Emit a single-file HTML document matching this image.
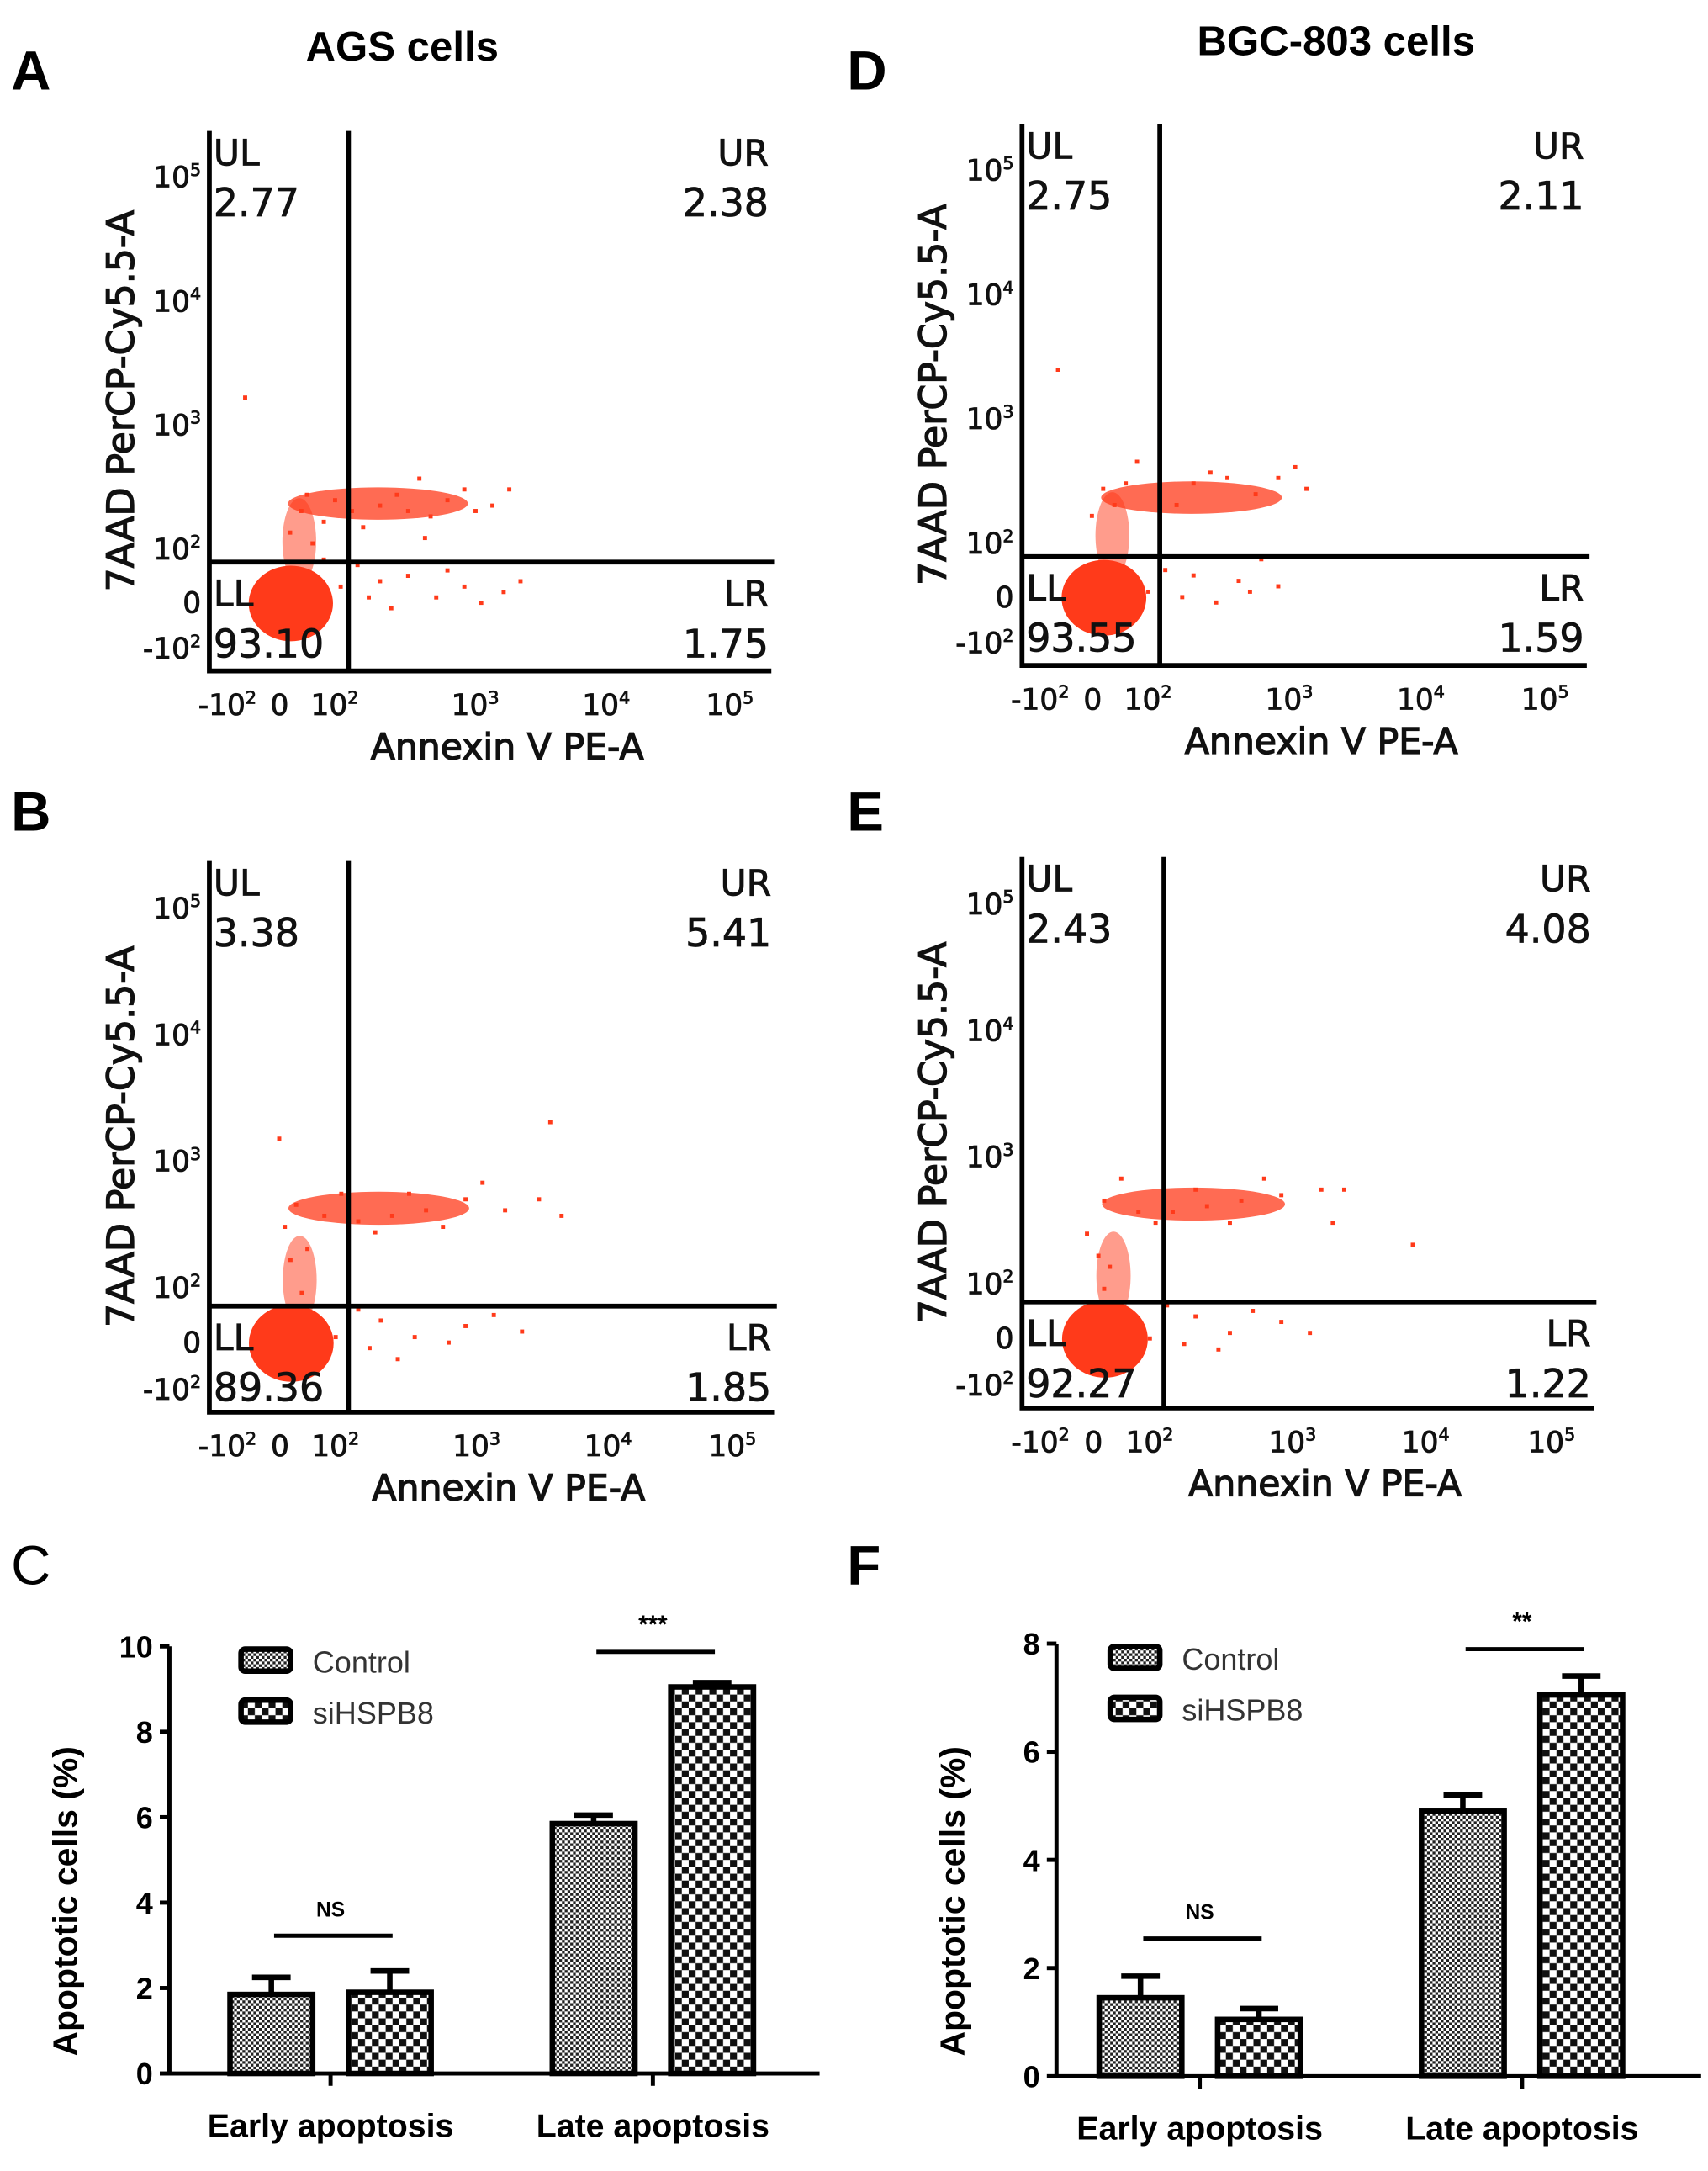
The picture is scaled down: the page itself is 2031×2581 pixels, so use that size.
<!DOCTYPE html>
<html><head><meta charset="utf-8"><style>
html,body{margin:0;padding:0;background:#fff}
svg{display:block}
.flow{font-family:"DejaVu Sans",Verdana,sans-serif}
.bar{font-family:"Liberation Sans",Arial,sans-serif;font-weight:bold}
</style></head><body>
<svg id="fig" width="2031" height="2581" viewBox="0 0 1240 1575.8" preserveAspectRatio="none" xmlns="http://www.w3.org/2000/svg">
<defs>
<pattern id="fine" width="4" height="4" patternUnits="userSpaceOnUse"><rect width="4" height="4" fill="#fff"/><rect width="2" height="2" fill="#222"/><rect x="2" y="2" width="2" height="2" fill="#222"/></pattern>
<pattern id="coarse" width="10" height="10" patternUnits="userSpaceOnUse"><rect width="10" height="10" fill="#fff"/><rect width="5" height="5" fill="#111"/><rect x="5" y="5" width="5" height="5" fill="#111"/></pattern>
</defs>
<g class="bar" font-size="40" fill="#000">
<text x="8" y="65">A</text>
<text x="8" y="603">B</text>
<text x="8" y="1150" font-weight="normal">C</text>
<text x="615" y="65">D</text>
<text x="615" y="603">E</text>
<text x="615" y="1150">F</text>
<text x="292" y="44" font-size="30" text-anchor="middle">AGS cells</text>
<text x="970" y="40" font-size="30" text-anchor="middle">BGC-803 cells</text>
</g>
<g id="flows"></g>
<g id="bars"></g>
</svg>
<script>
const NS='http://www.w3.org/2000/svg';
function mk(p,tag,attrs,txt){const e=document.createElementNS(NS,tag);for(const k in attrs)e.setAttribute(k,attrs[k]);if(txt!==undefined)e.textContent=txt;p.appendChild(e);return e;}

// ---- flow cytometry panel data ----
const flowPanels=['A','D','B','E'];
const flowUL=['2.77','2.75','3.38','2.43'];
const flowUR=['2.38','2.11','5.41','4.08'];
const flowLL=['93.10','93.55','89.36','92.27'];
const flowLR=['1.75','1.59','1.85','1.22'];
const yTickLabels=['10|5','10|4','10|3','10|2','0','-10|2'];
const xTickLabels=['-10|2','0','10|2','10|3','10|4','10|5'];
// scatter points [x fraction, y fraction]
const dotsA=[[0.16,0.70],[0.2,0.72],[0.25,0.7],[0.3,0.69],[0.35,0.7],[0.42,0.68],[0.45,0.66],[0.5,0.69],[0.18,0.76],[0.3,0.83],[0.35,0.82],[0.45,0.84],[0.52,0.85],[0.28,0.86],[0.06,0.49],[0.38,0.75],[0.4,0.86],[0.55,0.83],[0.22,0.68],[0.27,0.73],[0.33,0.67],[0.39,0.71],[0.47,0.7],[0.14,0.74],[0.17,0.67],[0.26,0.8],[0.32,0.88],[0.42,0.81],[0.48,0.87],[0.23,0.84],[0.2,0.79],[0.37,0.64],[0.53,0.66]];
const dotsD=[[0.14,0.67],[0.18,0.66],[0.24,0.67],[0.3,0.66],[0.36,0.65],[0.45,0.65],[0.5,0.67],[0.12,0.72],[0.3,0.83],[0.38,0.84],[0.45,0.85],[0.28,0.87],[0.06,0.45],[0.24,0.58],[0.4,0.86],[0.2,0.62],[0.27,0.7],[0.33,0.64],[0.41,0.68],[0.16,0.7],[0.25,0.82],[0.34,0.88],[0.42,0.8],[0.22,0.86],[0.48,0.63]];
const dotsB=[[0.15,0.62],[0.2,0.64],[0.26,0.65],[0.32,0.64],[0.38,0.63],[0.45,0.61],[0.52,0.63],[0.58,0.61],[0.14,0.72],[0.16,0.78],[0.3,0.83],[0.36,0.86],[0.45,0.84],[0.55,0.85],[0.28,0.88],[0.12,0.5],[0.6,0.47],[0.23,0.6],[0.29,0.67],[0.35,0.6],[0.41,0.66],[0.48,0.58],[0.13,0.66],[0.17,0.7],[0.26,0.81],[0.33,0.9],[0.42,0.87],[0.5,0.82],[0.22,0.86],[0.62,0.64]];
const dotsE=[[0.14,0.62],[0.2,0.64],[0.26,0.64],[0.32,0.63],[0.38,0.62],[0.45,0.61],[0.52,0.6],[0.56,0.6],[0.13,0.72],[0.14,0.78],[0.3,0.83],[0.36,0.86],[0.45,0.84],[0.5,0.86],[0.28,0.88],[0.68,0.7],[0.17,0.58],[0.23,0.66],[0.3,0.6],[0.36,0.66],[0.42,0.58],[0.11,0.68],[0.15,0.74],[0.25,0.81],[0.34,0.89],[0.4,0.82],[0.22,0.87],[0.54,0.66]];
const flowDots=[dotsA,dotsD,dotsB,dotsE];
// layout (not data)
const frames=[[152,95,560,487,253,408],[742,90,1152,483,842,404],[152,625,562,1025,253,948],[742,622,1157,1022,845,945]];
const yTickFr=[0.084,0.314,0.543,0.773,0.872,0.957];
const xTickFr=[0.032,0.125,0.223,0.473,0.706,0.926];

function expText(g,x,y,lab,anchor,size){
  const t=mk(g,'text',{x:x,y:y,'text-anchor':anchor,'font-size':size});
  const parts=lab.split('|');
  mk(t,'tspan',{},parts[0]);
  if(parts[1]) mk(t,'tspan',{dy:-size*0.4,'font-size':size*0.6},parts[1]);
  return t;
}
const fg=document.getElementById('flows');
flowPanels.forEach((p,i)=>{
  const [L,T,R,B,vx,hy]=frames[i];
  const g=mk(fg,'g',{class:'flow',fill:'#111',stroke:'#111','stroke-width':0.5});
  
  
  const W=R-L,H=B-T;
  const dg=mk(g,'g',{fill:'#ff3a1a',stroke:'none'});
  const band=mk(dg,'ellipse',{cx:L+W*0.3,cy:T+H*(i<2?0.69:0.63),rx:W*0.16,ry:H*0.03,opacity:0.75});
  
  const stem=mk(dg,'ellipse',{cx:L+W*0.16,cy:T+H*0.76,rx:W*0.03,ry:H*0.08,opacity:0.5});
  
  flowDots[i].forEach(d=>{const c=mk(dg,'rect',{x:L+W*d[0],y:T+H*d[1],width:3,height:3});
    });
  const blob=mk(dg,'ellipse',{cx:L+W*0.145,cy:T+H*0.875,rx:W*0.075,ry:H*0.07});
  
  mk(g,'path',{d:`M${L} ${T}V${B}H${R}`,stroke:'#000','stroke-width':3.5,fill:'none'});
  const gv=mk(g,'line',{x1:vx,y1:T,x2:vx,y2:B,stroke:'#000','stroke-width':3.5});
  
  const gh=mk(g,'line',{x1:L,y1:hy,x2:R+2,y2:hy,stroke:'#000','stroke-width':3.5});
  
  yTickLabels.forEach((lab,j)=>{const t=expText(g,L-6,T+H*yTickFr[j]+8,lab,'end',21);
    });
  xTickLabels.forEach((lab,j)=>{const t=expText(g,L+W*xTickFr[j],B+32,lab,'middle',21);
    });
  const xl=mk(g,'text',{x:L+W*0.53,y:B+64,'text-anchor':'middle','font-size':26,'stroke-width':0.8},'Annexin V PE-A');
  
  const yl=mk(g,'text',{x:0,y:0,'text-anchor':'middle','font-size':27,'stroke-width':0.8,transform:`translate(${L-55},${T+H*0.5}) rotate(-90)`},'7AAD PerCP-Cy5.5-A');
  
  const q=[['UL',flowUL[i],L+3,T+25,'start'],['UR',flowUR[i],R-2,T+25,'end'],['LL',flowLL[i],L+3,hy+32,'start'],['LR',flowLR[i],R-2,hy+32,'end']];
  q.forEach(a=>{
    const t1=mk(g,'text',{x:a[2],y:a[3],'text-anchor':a[4],'font-size':26},a[0]);
    
    const t2=mk(g,'text',{x:a[2],y:a[3]+37,'text-anchor':a[4],'font-size':28},a[1]);
    
  });
});

// ---- bar chart data ----
const barCategories=['Early apoptosis','Late apoptosis'];
const seriesNames=['Control','siHSPB8'];
const agsControl=[1.85,5.85];
const agsControlErr=[0.4,0.2];
const agsSi=[1.9,9.05];
const agsSiErr=[0.5,0.1];
const bgcControl=[1.45,4.9];
const bgcControlErr=[0.4,0.3];
const bgcSi=[1.05,7.05];
const bgcSiErr=[0.2,0.35];
const agsTicks=[0,2,4,6,8,10];
const bgcTicks=[0,2,4,6,8];
const agsSig=['NS','***'];
const bgcSig=['NS','**'];

const bg=document.getElementById('bars');
function barChart(name,x0,y0,yTop,axisEnd,ymax,ticks,ctl,ctlE,si,siE,sig,groupStart){
  const g=mk(bg,'g',{class:'bar'});
  
  
  const ys=v=>y0-(v/ymax)*(y0-yTop);
  mk(g,'path',{d:`M${x0} ${yTop}V${y0}H${axisEnd}`,stroke:'#000','stroke-width':3,fill:'none'});
  ticks.forEach(t=>{mk(g,'line',{x1:x0-7,y1:ys(t),x2:x0,y2:ys(t),stroke:'#000','stroke-width':3});
    const l=mk(g,'text',{x:x0-12,y:ys(t)+8,'text-anchor':'end','font-size':22},String(t));
    });
  const yl=mk(g,'text',{x:0,y:0,'text-anchor':'middle','font-size':25,transform:`translate(${x0-67},${(y0+yTop)/2+30}) rotate(-90)`},'Apoptotic cells (%)');
  
  const bw=60,gap=26,groupGap=234;
  barCategories.forEach((c,i)=>{
    const gx=groupStart+i*groupGap;
    const cx=gx+bw+gap/2;
    mk(g,'line',{x1:cx,y1:y0,x2:cx,y2:y0+9,stroke:'#000','stroke-width':3});
    const cl=mk(g,'text',{x:cx,y:y0+46,'text-anchor':'middle','font-size':24},c);
    
    [[ctl[i],ctlE[i],'url(#fine)',gx,'control'],[si[i],siE[i],'url(#coarse)',gx+bw+gap,'sihspb8']].forEach(b=>{
      const eb=mk(g,'path',{d:`M${b[3]+bw/2} ${ys(b[0])}V${ys(b[0]+b[1])}M${b[3]+bw/2-14} ${ys(b[0]+b[1])}H${b[3]+bw/2+14}`,stroke:'#000','stroke-width':4,fill:'none'});
      
      const r=mk(g,'rect',{x:b[3],y:ys(b[0]),width:bw,height:y0-ys(b[0]),fill:b[2],stroke:'#000','stroke-width':4});
      
    });
    const ly=i===0?y0-100:yTop+4;
    const sl=mk(g,'line',{x1:gx+32,y1:ly,x2:gx+bw*2+gap-28,y2:ly,stroke:'#000','stroke-width':3});
    
    const st=mk(g,'text',{x:cx,y:ly-14,'text-anchor':'middle','font-size':i?18:15},sig[i]);
    
  });
  seriesNames.forEach((s,j)=>{
    const lx=groupStart+8,ly=yTop+2+j*37;
    const sw=mk(g,'rect',{x:lx,y:ly,width:36,height:16,rx:3,fill:j?'url(#coarse)':'url(#fine)',stroke:'#000','stroke-width':4});
    
    const lt=mk(g,'text',{x:lx+52,y:ly+17,'font-size':22,'font-weight':'normal',fill:'#333'},s);
    
  });
}
barChart('bar-chart-ags',123,1505,1195,595,10,agsTicks,agsControl,agsControlErr,agsSi,agsSiErr,agsSig,167);
barChart('bar-chart-bgc',767,1507,1193,1235,8,bgcTicks,bgcControl,bgcControlErr,bgcSi,bgcSiErr,bgcSig,798);
</script>
</body></html>
